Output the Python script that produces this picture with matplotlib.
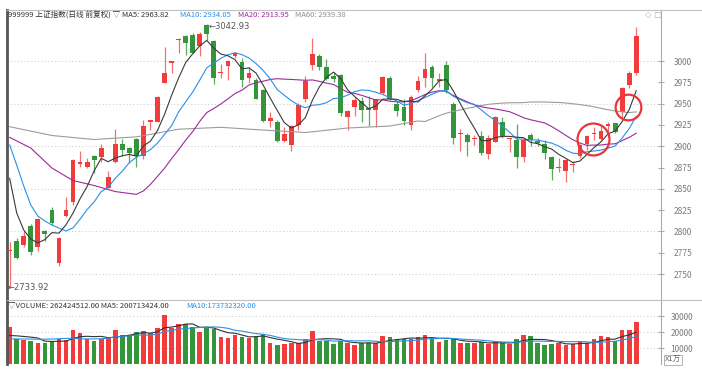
import numpy as np
import pandas as pd
import matplotlib
matplotlib.use("Agg")
import matplotlib.pyplot as plt
from matplotlib.lines import Line2D

plt.rcParams['font.family'] = ['Noto Sans CJK SC', 'DejaVu Sans']

# daily candles
opens = [2777, 2789, 2784, 2806, 2782, 2800, 2825, 2763, 2818, 2835,
         2879, 2876, 2888, 2887, 2851, 2881, 2903, 2898, 2908, 2888,
         2928, 2929, 2974, 2998, 3025, 3029, 3031, 3018, 3042, 3024,
         2986, 2994, 3006, 2999, 2980, 2978, 2966, 2930, 2929, 2906,
         2901, 2925, 2956, 2995, 3006, 2993, 2982, 2984, 2934, 2946,
         2953, 2945, 2942, 2962, 2980, 2950, 2946, 2925, 2966, 2980,
         2993, 2977, 2995, 2950, 2914, 2913, 2909, 2912, 2891, 2905,
         2929, 2909, 2907, 2887, 2913, 2906, 2903, 2887, 2875, 2871,
         2878, 2888, 2903, 2914, 2909, 2924, 2927, 2940, 2972, 2986]
highs = [2788, 2792, 2800, 2809, 2816, 2802, 2829, 2793, 2841, 2885,
         2894, 2886, 2890, 2903, 2871, 2920, 2909, 2899, 2910, 2931,
         2931, 2959, 3017, 3000, 3027, 3031, 3033, 3034, 3042.93, 3025,
         2997, 3001, 3011, 3003, 2993, 2980, 2967, 2940, 2931, 2923,
         2925, 2951, 2982, 3027, 3008, 3002, 2987, 2985, 2943, 2958,
         2958, 2959, 2956, 2982, 2982, 2953, 2956, 2960, 2982, 3009,
         2995, 2986, 3000, 2952, 2920, 2915, 2913, 2918, 2913, 2935,
         2934, 2910, 2926, 2909, 2915, 2910, 2907, 2888, 2886, 2885,
         2883, 2903, 2913, 2923, 2924, 2929, 2927, 2970, 2988, 3040]
lows = [2733.92, 2768, 2782, 2772, 2777, 2789, 2808, 2759, 2817, 2831,
        2876, 2875, 2868, 2881, 2851, 2880, 2888, 2880, 2876, 2885,
        2919, 2929, 2974, 2986, 3009, 3007, 3009, 3006, 3025, 2973,
        2980, 2978, 3003, 2970, 2974, 2955, 2929, 2922, 2905, 2905,
        2894, 2919, 2952, 2990, 2990, 2978, 2975, 2935, 2919, 2935,
        2928, 2924, 2923, 2961, 2954, 2936, 2925, 2919, 2964, 2970,
        2970, 2970, 2963, 2903, 2894, 2889, 2901, 2890, 2885, 2905,
        2910, 2893, 2875, 2882, 2900, 2900, 2885, 2860, 2870, 2858,
        2870, 2886, 2895, 2907, 2907, 2917, 2915, 2932, 2968, 2984]
closes = [2778, 2769, 2795, 2776, 2815, 2797, 2810, 2792, 2825, 2884,
          2881, 2882, 2884, 2898, 2864, 2903, 2895, 2892, 2888, 2924,
          2931, 2958, 2986, 3000, 3026, 3021, 3010, 3032, 3032, 2980,
          2987, 3000, 3009, 2978, 2986, 2956, 2930, 2933, 2906, 2914,
          2924, 2948, 2976, 3008, 2993, 2979, 2979, 2939, 2941, 2954,
          2943, 2943, 2955, 2981, 2955, 2941, 2930, 2958, 2976, 2991,
          2980, 2979, 2966, 2910, 2916, 2905, 2910, 2892, 2910, 2934,
          2912, 2910, 2887, 2907, 2907, 2904, 2892, 2873, 2876, 2884,
          2879, 2901, 2912, 2916, 2918, 2926, 2917, 2968, 2986, 3029]
# volume in units of 10^4 shares
volumes = [23000, 15700, 14800, 14600, 13200, 13200, 14600, 15700, 14800, 21100,
           19300, 15700, 14600, 15700, 16900, 21100, 18400, 18000, 20100, 20500,
           19500, 22600, 30600, 22200, 24700, 24700, 23000, 20100, 22600, 22000,
           16900, 16300, 18400, 16900, 16300, 17400, 18800, 13200, 12100, 12500,
           13200, 13200, 15900, 20900, 14600, 14600, 12500, 14600, 13200, 12100,
           13200, 13200, 13200, 17400, 16700, 15700, 15700, 15700, 16700, 18000,
           16300, 13800, 15300, 15700, 13200, 13200, 13200, 13600, 12500, 13800,
           13200, 12500, 15700, 18000, 17400, 13200, 12100, 12500, 13200, 12100,
           12500, 13800, 13200, 15900, 17400, 16700, 14600, 21100, 21100, 26200]

# moving average values before the window is full (history off screen)
ma5_head_idx = [0, 1, 2, 3]
ma5_head = [2862.3, 2821.6, 2801.6, 2791.1]
ma10_head_idx = [0, 1, 2, 3, 4, 5, 6, 7, 8]
ma10_head = [2901.4, 2877.9, 2853.3, 2831.0, 2818.1, 2812.2, 2807.5, 2804.0, 2800.5]
ma20_head_idx = [0, 3, 6, 9, 12, 15, 18]
ma20_head = [2910.4, 2897.9, 2874.4, 2859.7, 2853.9, 2846.8, 2843.5]
ma60_head_idx = [0, 6, 12, 18, 24, 30, 36, 42, 48, 54, 58]
ma60_head = [2922.9, 2912.6, 2907.9, 2911.0, 2920.0, 2922.2, 2919.0, 2916.1, 2921.4, 2923.7, 2929.6]
vol5_head = [17800, 17600, 17200, 16800]
vol10_head = [15700, 15700, 15600, 15600, 15500, 15500, 15600, 15800, 16000]

RED = "#f23c3c"
GREEN = "#35953a"
GRID = "#c8c8c8"
LABEL = "#7a7a7a"


def rolling_with_head(values, n, head_idx, head_val):
    full = pd.Series(values).rolling(n).mean()
    xs = list(head_idx) + list(range(n - 1, len(values)))
    ys = list(head_val) + list(full.iloc[n - 1:])
    return xs, ys


W, H = 702, 370
fig = plt.figure(figsize=(W / 100, H / 100), dpi=100)
ax = fig.add_axes([7 / W, 1 - 299 / H, 654 / W, 289 / H])
axv = fig.add_axes([7 / W, 1 - 364 / H, 654 / W, 64 / H], sharex=ax)

x = np.arange(len(closes))
o = np.array(opens)
c = np.array(closes)
up = c >= o
body_col = [RED if u else GREEN for u in up]
wick_col = ["#f47070" if u else "#5fa863" for u in up]

ax.vlines(x, lows, highs, colors=wick_col, lw=0.9, zorder=2)
ax.bar(x, np.maximum(np.abs(c - o), 1.2), bottom=np.minimum(o, c),
       width=0.68, color=body_col, zorder=3)

for n, hx, hv, col in [(60, ma60_head_idx, ma60_head, "#9c9c9c"),
                       (20, ma20_head_idx, ma20_head, "#9b2b9b"),
                       (10, ma10_head_idx, ma10_head, "#2b8fe6"),
                       (5, ma5_head_idx, ma5_head, "#3a3a3a")]:
    xs, ys = rolling_with_head(closes, n, hx, hv)
    ax.plot(xs, ys, color=col, lw=0.8, zorder=4)

ax.set_xlim(-0.38, -0.38 + 654 / 7.04)
ax.set_ylim(2720.7, 3059.9)
for g in range(2750, 3001, 50):
    ax.axhline(g, color=GRID, lw=0.7, ls=(0, (1, 2.5)), zorder=0)
ax.yaxis.tick_right()
ax.set_yticks(range(2750, 3001, 25))
ax.tick_params(axis='y', direction='inout', length=4, color="#aaaaaa",
               labelsize=6, labelcolor=LABEL, pad=7)
ax.tick_params(axis='x', bottom=False, labelbottom=False)

# highest / lowest marks
ax.text(28.3, 3041, "←3042.93", fontsize=6, color="#555555", va='center', ha='left',
        family='DejaVu Sans')
ax.text(-0.3, 2733.92, "←2733.92", fontsize=6, color="#555555", va='center', ha='left',
        family='DejaVu Sans')

# red circles drawn on the chart
ax.plot(82.9, 2908.2, marker='o', ms=23, mfc='none', mec="#e8363a", mew=1.6, zorder=5)
ax.plot(87.8, 2946.5, marker='o', ms=18.5, mfc='none', mec="#e8363a", mew=1.6, zorder=5)

for s in ['top', 'bottom']:
    ax.spines[s].set_visible(False)
ax.spines['left'].set_color("#555555")
ax.spines['left'].set_linewidth(2)
ax.spines['right'].set_color("#aaaaaa")
ax.spines['right'].set_linewidth(0.8)

# volume panel
axv.bar(x, volumes, width=0.66, color=body_col, zorder=2)
xs, ys = rolling_with_head(volumes, 5, range(4), vol5_head)
axv.plot(xs, ys, color="#333333", lw=0.8, zorder=3)
xs, ys = rolling_with_head(volumes, 10, range(9), vol10_head)
axv.plot(xs, ys, color="#2b8fe6", lw=0.8, zorder=3)
axv.set_ylim(0, 40000)
for g in [10000, 20000, 30000]:
    axv.axhline(g, color=GRID, lw=0.7, ls=(0, (1, 2.5)), zorder=0)
axv.yaxis.tick_right()
axv.set_yticks([10000, 20000, 30000])
axv.tick_params(axis='y', direction='inout', length=4, color="#aaaaaa",
                labelsize=6, labelcolor=LABEL, pad=5)
axv.tick_params(axis='x', bottom=False, labelbottom=False)
for s in ['top', 'bottom']:
    axv.spines[s].set_visible(False)
axv.spines['left'].set_color("#555555")
axv.spines['left'].set_linewidth(2)
axv.spines['right'].set_color("#aaaaaa")
axv.spines['right'].set_linewidth(0.8)

# frame lines across the full width
for yy in [10, 299.5]:
    fig.add_artist(Line2D([7 / W, 1], [1 - yy / H, 1 - yy / H], color="#c0c0c0", lw=0.8))

# headers
hy = 1 - 15 / H
fig.text(8 / W, hy, "999999 上证指数(日线 前复权) ▽ MA5: 2963.82", fontsize=5.5,
         color="#333333", va='center')
fig.text(180 / W, hy, "MA10: 2934.05", fontsize=5.5, color="#2b8fe6", va='center')
fig.text(238 / W, hy, "MA20: 2913.95", fontsize=5.5, color="#9b2b9b", va='center')
fig.text(295 / W, hy, "MA60: 2939.38", fontsize=5.5, color="#8c8c8c", va='center')
fig.text(645 / W, hy, "◇ □", fontsize=6, color="#b0b0b0", va='center',
         family='DejaVu Sans')

vy = 1 - 306 / H
fig.text(8 / W, vy, "▽VOLUME: 262424512.00 MA5: 200713424.00", fontsize=5.5,
         color="#333333", va='center')
fig.text(186 / W, vy, "MA10:173732320.00", fontsize=5.5, color="#2b8fe6", va='center')
fig.text(665 / W, 1 - 360 / H, "X1万", fontsize=5.5, color="#666666", va='center',
         bbox=dict(boxstyle='square,pad=0.15', fc='white', ec="#aaaaaa", lw=0.6))

fig.savefig("out.png", dpi=100)
